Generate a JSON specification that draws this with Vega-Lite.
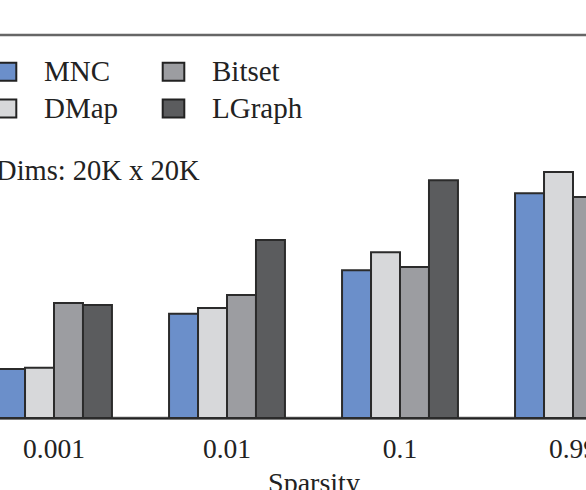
{
  "$schema": "https://vega.github.io/schema/vega-lite/v6.json",
  "width": 692,
  "height": 383,
  "autosize": {"type": "none"},
  "padding": {"left": -32.5, "top": 35, "right": -73.5, "bottom": 72},
  "background": "white",
  "config": {
    "view": {"stroke": "#666", "strokeWidth": 2.5},
    "font": "Liberation Serif",
    "axis": {
      "labelFont": "Liberation Serif", "labelFontSize": 27.5, "labelColor": "#222", "labelAngle": 0,
      "labelPadding": 17, "ticks": false, "tickSize": 0, "domainColor": "#222", "domainWidth": 2,
      "titleFont": "Liberation Serif", "titleFontSize": 28, "titleFontWeight": "normal", "titleColor": "#222",
      "titlePadding": 7, "grid": false
    }
  },
  "data": {"values": [
    {"sparsity": "0.001", "method": "MNC", "value": 12.8},
    {"sparsity": "0.001", "method": "DMap", "value": 13.1},
    {"sparsity": "0.001", "method": "Bitset", "value": 30.0},
    {"sparsity": "0.001", "method": "LGraph", "value": 29.5},
    {"sparsity": "0.01", "method": "MNC", "value": 27.2},
    {"sparsity": "0.01", "method": "DMap", "value": 28.7},
    {"sparsity": "0.01", "method": "Bitset", "value": 32.1},
    {"sparsity": "0.01", "method": "LGraph", "value": 46.5},
    {"sparsity": "0.1", "method": "MNC", "value": 38.6},
    {"sparsity": "0.1", "method": "DMap", "value": 43.3},
    {"sparsity": "0.1", "method": "Bitset", "value": 39.4},
    {"sparsity": "0.1", "method": "LGraph", "value": 62.1},
    {"sparsity": "0.99", "method": "MNC", "value": 58.7},
    {"sparsity": "0.99", "method": "DMap", "value": 64.2},
    {"sparsity": "0.99", "method": "Bitset", "value": 57.7},
    {"sparsity": "0.99", "method": "LGraph", "value": 75.0}
  ]},
  "layer": [
    {
      "mark": {"type": "bar", "stroke": "#2b2b2b", "strokeWidth": 2},
      "encoding": {
        "x": {"field": "sparsity", "type": "nominal", "sort": ["0.001", "0.01", "0.1", "0.99"],
              "scale": {"paddingInner": 0.33, "paddingOuter": 0.165}, "title": "Sparsity"},
        "xOffset": {"field": "method", "type": "nominal", "sort": ["MNC", "DMap", "Bitset", "LGraph"],
                    "scale": {"paddingInner": 0, "paddingOuter": 0}},
        "y": {"field": "value", "type": "quantitative", "scale": {"domain": [0, 100]}, "axis": null},
        "color": {"field": "method", "type": "nominal",
                  "scale": {"domain": ["MNC", "DMap", "Bitset", "LGraph"], "range": ["#6b8fca", "#d7d8da", "#9c9da1", "#5b5c5e"]},
                  "legend": {"title": null, "orient": "none", "legendX": 23.5, "legendY": 22, "columns": 2, "padding": 0,
                             "symbolType": "M-1.2,-1H1.2V1H-1.2Z", "symbolSize": 324, "symbolStrokeColor": "#222", "symbolStrokeWidth": 2,
                             "symbolOpacity": 1, "labelFont": "Liberation Serif", "labelFontSize": 29, "labelColor": "#222",
                             "labelOffset": 24, "columnPadding": 39, "rowPadding": 7}}
      }
    },
    {
      "data": {"values": [{"note": "Dims: 20K x 20K"}]},
      "mark": {"type": "text", "align": "left", "baseline": "alphabetic", "fontSize": 28.5, "font": "Liberation Serif", "color": "#222"},
      "encoding": {
        "x": {"datum": "0.001", "type": "nominal", "bandPosition": 0, "title": "Sparsity"},
        "y": {"datum": 62.1, "type": "quantitative"},
        "text": {"field": "note"}
      }
    }
  ]
}
